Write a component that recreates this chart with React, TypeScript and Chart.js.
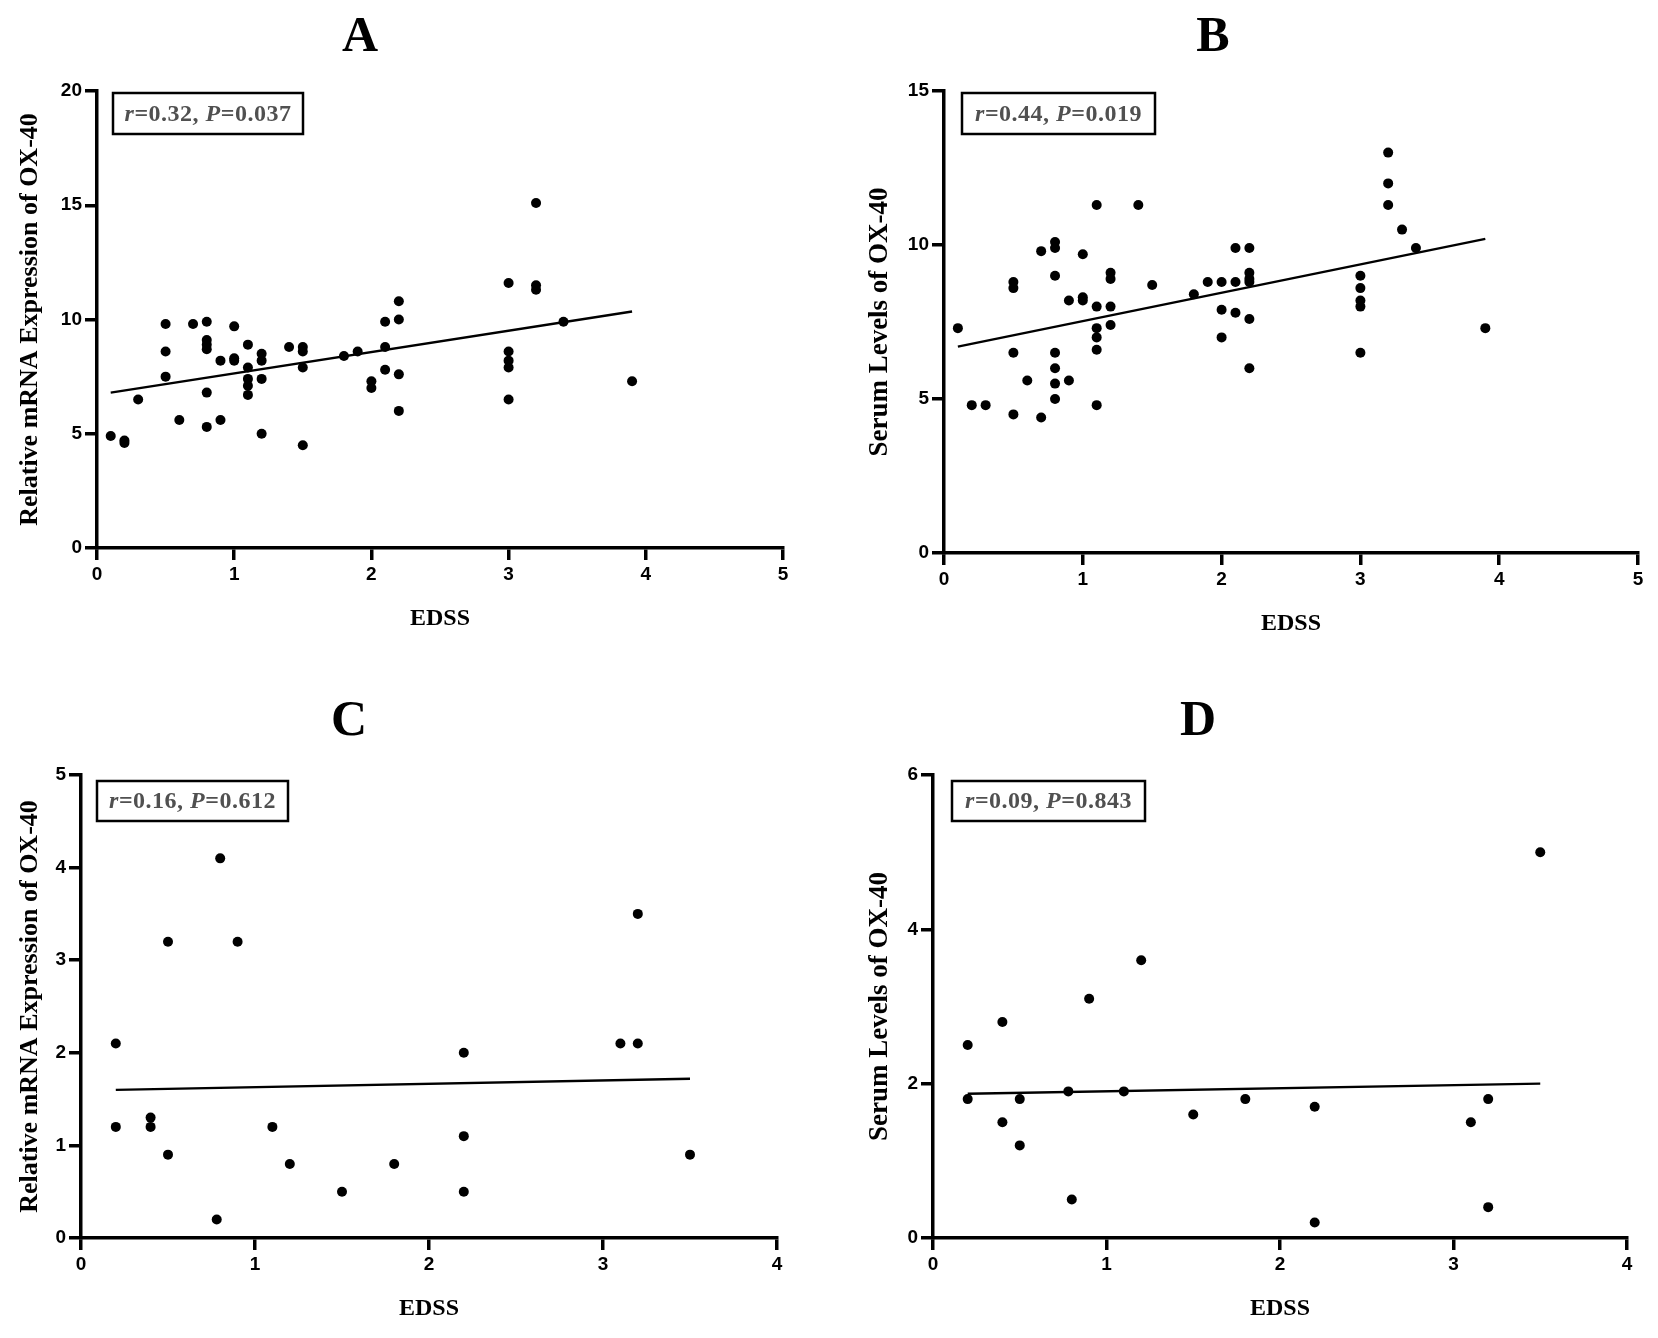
import React, { useEffect, useRef } from 'react';
import { Chart, registerables } from 'chart.js';

Chart.register(...registerables);

// ---------- Data ----------
// Panel A: EDSS vs relative mRNA expression of OX-40
const aEdss = [0.1, 0.2, 0.2, 0.3, 0.5, 0.5, 0.5, 0.6, 0.7, 0.8, 0.8, 0.8, 0.8, 0.8, 0.8, 0.9, 0.9, 1.0, 1.0, 1.0, 1.1, 1.1, 1.1, 1.1, 1.1, 1.2, 1.2, 1.2, 1.2, 1.4, 1.5, 1.5, 1.5, 1.5, 1.8, 1.9, 2.0, 2.0, 2.1, 2.1, 2.1, 2.2, 2.2, 2.2, 2.2, 3.0, 3.0, 3.0, 3.0, 3.0, 3.2, 3.2, 3.2, 3.4, 3.9];
const aValues = [4.9, 4.7, 4.6, 6.5, 9.8, 8.6, 7.5, 5.6, 9.8, 9.9, 9.1, 8.9, 8.7, 6.8, 5.3, 8.2, 5.6, 9.7, 8.3, 8.2, 8.9, 7.9, 7.4, 7.1, 6.7, 8.5, 8.2, 7.4, 5.0, 8.8, 8.8, 8.6, 7.9, 4.5, 8.4, 8.6, 7.3, 7.0, 9.9, 8.8, 7.8, 10.8, 10.0, 7.6, 6.0, 11.6, 8.6, 8.2, 7.9, 6.5, 15.1, 11.5, 11.3, 9.9, 7.3];
const aFitX = [0.1, 3.9];
const aFitY = [6.8, 10.35];

// Panel B: EDSS vs serum levels of OX-40
const bEdss = [0.1, 0.2, 0.3, 0.5, 0.5, 0.5, 0.5, 0.6, 0.7, 0.7, 0.8, 0.8, 0.8, 0.8, 0.8, 0.8, 0.8, 0.9, 0.9, 1.0, 1.0, 1.0, 1.1, 1.1, 1.1, 1.1, 1.1, 1.1, 1.2, 1.2, 1.2, 1.2, 1.4, 1.5, 1.8, 1.9, 2.0, 2.0, 2.0, 2.1, 2.1, 2.1, 2.2, 2.2, 2.2, 2.2, 2.2, 2.2, 3.0, 3.0, 3.0, 3.0, 3.0, 3.2, 3.2, 3.2, 3.3, 3.4, 3.9];
const bValues = [7.3, 4.8, 4.8, 8.8, 8.6, 6.5, 4.5, 5.6, 9.8, 4.4, 10.1, 9.9, 9.0, 6.5, 6.0, 5.5, 5.0, 8.2, 5.6, 9.7, 8.3, 8.2, 11.3, 8.0, 7.3, 7.0, 6.6, 4.8, 9.1, 8.9, 8.0, 7.4, 11.3, 8.7, 8.4, 8.8, 8.8, 7.9, 7.0, 9.9, 8.8, 7.8, 9.9, 9.1, 8.9, 8.8, 7.6, 6.0, 9.0, 8.6, 8.2, 8.0, 6.5, 13.0, 12.0, 11.3, 10.5, 9.9, 7.3];
const bFitX = [0.1, 3.9];
const bFitY = [6.7, 10.2];

// Panel C: EDSS vs relative mRNA expression of OX-40
const cEdss = [0.2, 0.2, 0.4, 0.4, 0.5, 0.5, 0.8, 0.78, 0.9, 1.1, 1.2, 1.5, 1.8, 2.2, 2.2, 2.2, 3.1, 3.2, 3.2, 3.5];
const cValues = [2.1, 1.2, 1.3, 1.2, 3.2, 0.9, 4.1, 0.2, 3.2, 1.2, 0.8, 0.5, 0.8, 2.0, 1.1, 0.5, 2.1, 2.1, 3.5, 0.9];
const cFitX = [0.2, 3.5];
const cFitY = [1.6, 1.72];

// Panel D: EDSS vs serum levels of OX-40
const dEdss = [0.2, 0.2, 0.4, 0.4, 0.5, 0.5, 0.78, 0.8, 0.9, 1.1, 1.2, 1.5, 1.8, 2.2, 2.2, 3.1, 3.2, 3.2, 3.5];
const dValues = [2.5, 1.8, 2.8, 1.5, 1.8, 1.2, 1.9, 0.5, 3.1, 1.9, 3.6, 1.6, 1.8, 1.7, 0.2, 1.5, 1.8, 0.4, 5.0];
const dFitX = [0.2, 3.5];
const dFitY = [1.87, 2.0];

const panelLetters = ['A', 'B', 'C', 'D'];
const yTitles = ['Relative mRNA Expression of OX-40', 'Serum Levels of OX-40', 'Relative mRNA Expression of OX-40', 'Serum Levels of OX-40'];
const xTitle = 'EDSS';
const rValues = ['0.32', '0.44', '0.16', '0.09'];
const pValues = ['0.037', '0.019', '0.612', '0.843'];
const xMaxes = [5, 5, 4, 4];
const yMaxes = [20, 15, 5, 6];
const yStepSizes = [5, 5, 1, 2];

// ---------- Layout ----------
const CW = 829;
const CH = 669;

type Layout = {
  left: number; top: number;
  area: { l: number; r: number; t: number; b: number };
  letter: { x: number; y: number };
  box: { x: number; y: number; w: number; h: number };
  yTitleX: number;
  yTitleSize: number;
  xTitleY: number;
};

const layouts: Layout[] = [
  { left: 0, top: 0, area: { l: 97, r: 783, t: 91, b: 548 }, letter: { x: 360, y: 51 }, box: { x: 113, y: 93, w: 190, h: 41 }, yTitleX: 30, yTitleSize: 26, xTitleY: 619 },
  { left: 829, top: 0, area: { l: 115, r: 809, t: 91, b: 553 }, letter: { x: 384, y: 51 }, box: { x: 133, y: 93, w: 193, h: 41 }, yTitleX: 51, yTitleSize: 27, xTitleY: 624 },
  { left: 0, top: 669, area: { l: 81, r: 777, t: 106, b: 569 }, letter: { x: 349, y: 66 }, box: { x: 97, y: 112, w: 191, h: 40 }, yTitleX: 30, yTitleSize: 26, xTitleY: 640 },
  { left: 829, top: 669, area: { l: 104, r: 798, t: 106, b: 569 }, letter: { x: 369, y: 66 }, box: { x: 123, y: 112, w: 193, h: 40 }, yTitleX: 51, yTitleSize: 27, xTitleY: 640 },
];

const allX = [aEdss, bEdss, cEdss, dEdss];
const allY = [aValues, bValues, cValues, dValues];
const allFitX = [aFitX, bFitX, cFitX, dFitX];
const allFitY = [aFitY, bFitY, cFitY, dFitY];

const X_TITLE_SIZE = 24;
const TITLE_LH = 1.2;

function Panel({ idx }: { idx: number }) {
  const ref = useRef<HTMLCanvasElement | null>(null);
  const lay = layouts[idx];

  useEffect(() => {
    if (!ref.current) return;
    const pts = allX[idx].map((x, i) => ({ x, y: allY[idx][i] }));
    const fit = allFitX[idx].map((x, i) => ({ x, y: allFitY[idx][i] }));

    const annot = {
      id: 'annot' + idx,
      afterDraw(chart: any) {
        const ctx = chart.ctx as CanvasRenderingContext2D;
        ctx.save();
        // panel letter
        ctx.fillStyle = '#000';
        ctx.font = 'bold 50px "Liberation Serif", "Times New Roman", serif';
        ctx.textAlign = 'center';
        ctx.textBaseline = 'alphabetic';
        ctx.fillText(panelLetters[idx], lay.letter.x, lay.letter.y);

        // statistics box
        const b = lay.box;
        ctx.lineWidth = 2.5;
        ctx.strokeStyle = '#000';
        ctx.strokeRect(b.x, b.y, b.w, b.h);
        const segs = [
          { t: 'r', it: true },
          { t: '=' + rValues[idx] + ', ', it: false },
          { t: 'P', it: true },
          { t: '=' + pValues[idx], it: false },
        ];
        const fontFor = (it: boolean) => (it ? 'italic ' : '') + 'bold 24px "Liberation Serif", "Times New Roman", serif';
        (ctx as any).letterSpacing = '0.5px';
        let total = 0;
        const widths = segs.map((s) => {
          ctx.font = fontFor(s.it);
          const w = ctx.measureText(s.t).width;
          total += w;
          return w;
        });
        let x = b.x + (b.w - total) / 2;
        ctx.fillStyle = '#505050';
        ctx.textAlign = 'left';
        ctx.textBaseline = 'middle';
        segs.forEach((s, i) => {
          ctx.font = fontFor(s.it);
          ctx.fillText(s.t, x, b.y + b.h / 2 + 1);
          x += widths[i];
        });
        ctx.restore();
      },
    };

    const tickFont = { family: '"Liberation Sans", Arial, sans-serif', size: 19, weight: 'bold' as const };
    const xTitleFont = { family: '"Liberation Serif", "Times New Roman", serif', size: X_TITLE_SIZE, weight: 'bold' as const, lineHeight: TITLE_LH };
    const yTitleFont = { family: '"Liberation Serif", "Times New Roman", serif', size: lay.yTitleSize, weight: 'bold' as const, lineHeight: TITLE_LH };
    const xHalf = (X_TITLE_SIZE * TITLE_LH) / 2;
    const yHalf = (lay.yTitleSize * TITLE_LH) / 2;

    const gridOpts = { display: true, drawOnChartArea: false, drawTicks: true, tickLength: 12, tickWidth: 3.5, tickColor: '#000', lineWidth: 3.5, color: '#000' };
    const borderOpts = { display: true, width: 3.5, color: '#000' };

    const chart = new Chart(ref.current, {
      type: 'scatter',
      data: {
        datasets: [
          {
            label: 'points',
            data: pts,
            backgroundColor: '#000',
            borderColor: '#000',
            pointRadius: 5,
            pointBorderWidth: 0,
            showLine: false,
          },
          {
            label: 'fit',
            data: fit,
            showLine: true,
            borderColor: '#000',
            borderWidth: 2.4,
            pointRadius: 0,
            fill: false,
          },
        ],
      },
      options: {
        responsive: false,
        animation: false,
        devicePixelRatio: 1,
        layout: {
          padding: { left: 0, top: lay.area.t, right: CW - lay.area.r, bottom: 0 },
        },
        plugins: {
          legend: { display: false },
          tooltip: { enabled: false },
          title: { display: false },
        },
        scales: {
          x: {
            type: 'linear',
            min: 0,
            max: xMaxes[idx],
            ticks: { stepSize: 1, color: '#000', font: tickFont, padding: 3, maxRotation: 0, autoSkip: false },
            grid: gridOpts,
            border: borderOpts,
            title: { display: true, text: xTitle, color: '#000', font: xTitleFont, padding: { top: 0, bottom: CH - xHalf - lay.xTitleY } },
            afterFit: (s: any) => { s.height = CH - lay.area.b; },
          },
          y: {
            type: 'linear',
            min: 0,
            max: yMaxes[idx],
            ticks: { stepSize: yStepSizes[idx], color: '#000', font: tickFont, padding: 3, autoSkip: false },
            grid: gridOpts,
            border: borderOpts,
            title: { display: true, text: yTitles[idx], color: '#000', font: yTitleFont, padding: { top: lay.yTitleX - yHalf, bottom: 0 } },
            afterFit: (s: any) => { s.width = lay.area.l; },
          },
        },
      },
      plugins: [annot],
    } as any);
    return () => chart.destroy();
  }, [idx]);

  return (
    <canvas
      ref={ref}
      width={CW}
      height={CH}
      style={{ position: 'absolute', left: lay.left, top: lay.top, width: CW, height: CH }}
    />
  );
}

export default function App() {
  return (
    <div style={{ position: 'absolute', left: 0, top: 0, width: 1658, height: 1338, background: '#fff' }}>
      {[0, 1, 2, 3].map((i) => (
        <Panel key={i} idx={i} />
      ))}
    </div>
  );
}
